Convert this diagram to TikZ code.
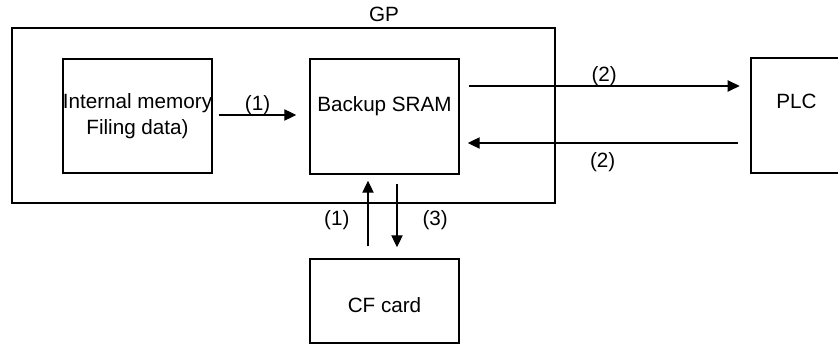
\documentclass[tikz,border=0pt]{standalone}
\usepackage{fontspec}
\setmainfont{Liberation Sans}
\usetikzlibrary{arrows.meta, calc}

\begin{document}
\begin{tikzpicture}[x=0.75pt,y=0.75pt,yscale=-1,xscale=1,
  font=\fontsize{15.5}{20}\selectfont,
  unit/.style={draw, line width=1.1pt, inner sep=0pt, align=center, minimum width=111.75pt},
  frame/.style={draw, line width=2pt, inner sep=0pt},
  flow/.style={-{Triangle[length=9pt,width=8.5pt]}, line width=0.8pt},
  tag/.style={inner sep=0pt}]
\useasboundingbox (0,0) rectangle (838,345);

%Frame: GP
\node[frame, minimum width=407.25pt, minimum height=131.25pt] (gp) at (283.5,115.5) {};
\node[tag, above=3.75pt] (gplabel) at (gp.north -| 384,0) {GP};

%Boxes
\node[unit, minimum height=85.5pt] (mem) at (137.5,116) {Internal memory\\Filing data)};
\node[unit, minimum height=86.25pt, label={[yshift=7.5pt]center:Backup SRAM}] (sram) at (384.5,116.5) {};
\node[unit, minimum height=63pt, label={[yshift=-3.4pt]center:CF card}] (cf) at (384.5,301) {};
\node[frame, minimum width=68.25pt, minimum height=86.25pt, label={[yshift=10.5pt]center:PLC}] (plc) at (796.5,115.5) {};

%Arrows inside GP
\draw[flow] ($(mem.east)+(6,-1)$) -- node[tag, above] {(1)} ($(sram.west)+(-13,-1.5)$);

%Arrows to and from PLC
\draw[flow] ($(sram.east)+(9,-30.5)$) -- node[tag, above] {(2)} ($(plc.west)+(-10,-29.5)$);
\draw[flow] ($(plc.west)+(-12,27.5)$) -- node[tag, below=6.75pt] {(2)} ($(sram.east)+(8,26.5)$);

%Arrows to and from CF card
\draw[flow] ($(cf.north)+(-16.5,-12)$) -- node[tag, pos=0.4, left=13.5pt] {(1)} ($(sram.south)+(-16.5,6)$);
\draw[flow] ($(sram.south)+(12.5,9)$) -- node[tag, pos=0.58, right=18.75pt] {(3)} ($(cf.north)+(12.5,-11)$);

\end{tikzpicture}
\end{document}
